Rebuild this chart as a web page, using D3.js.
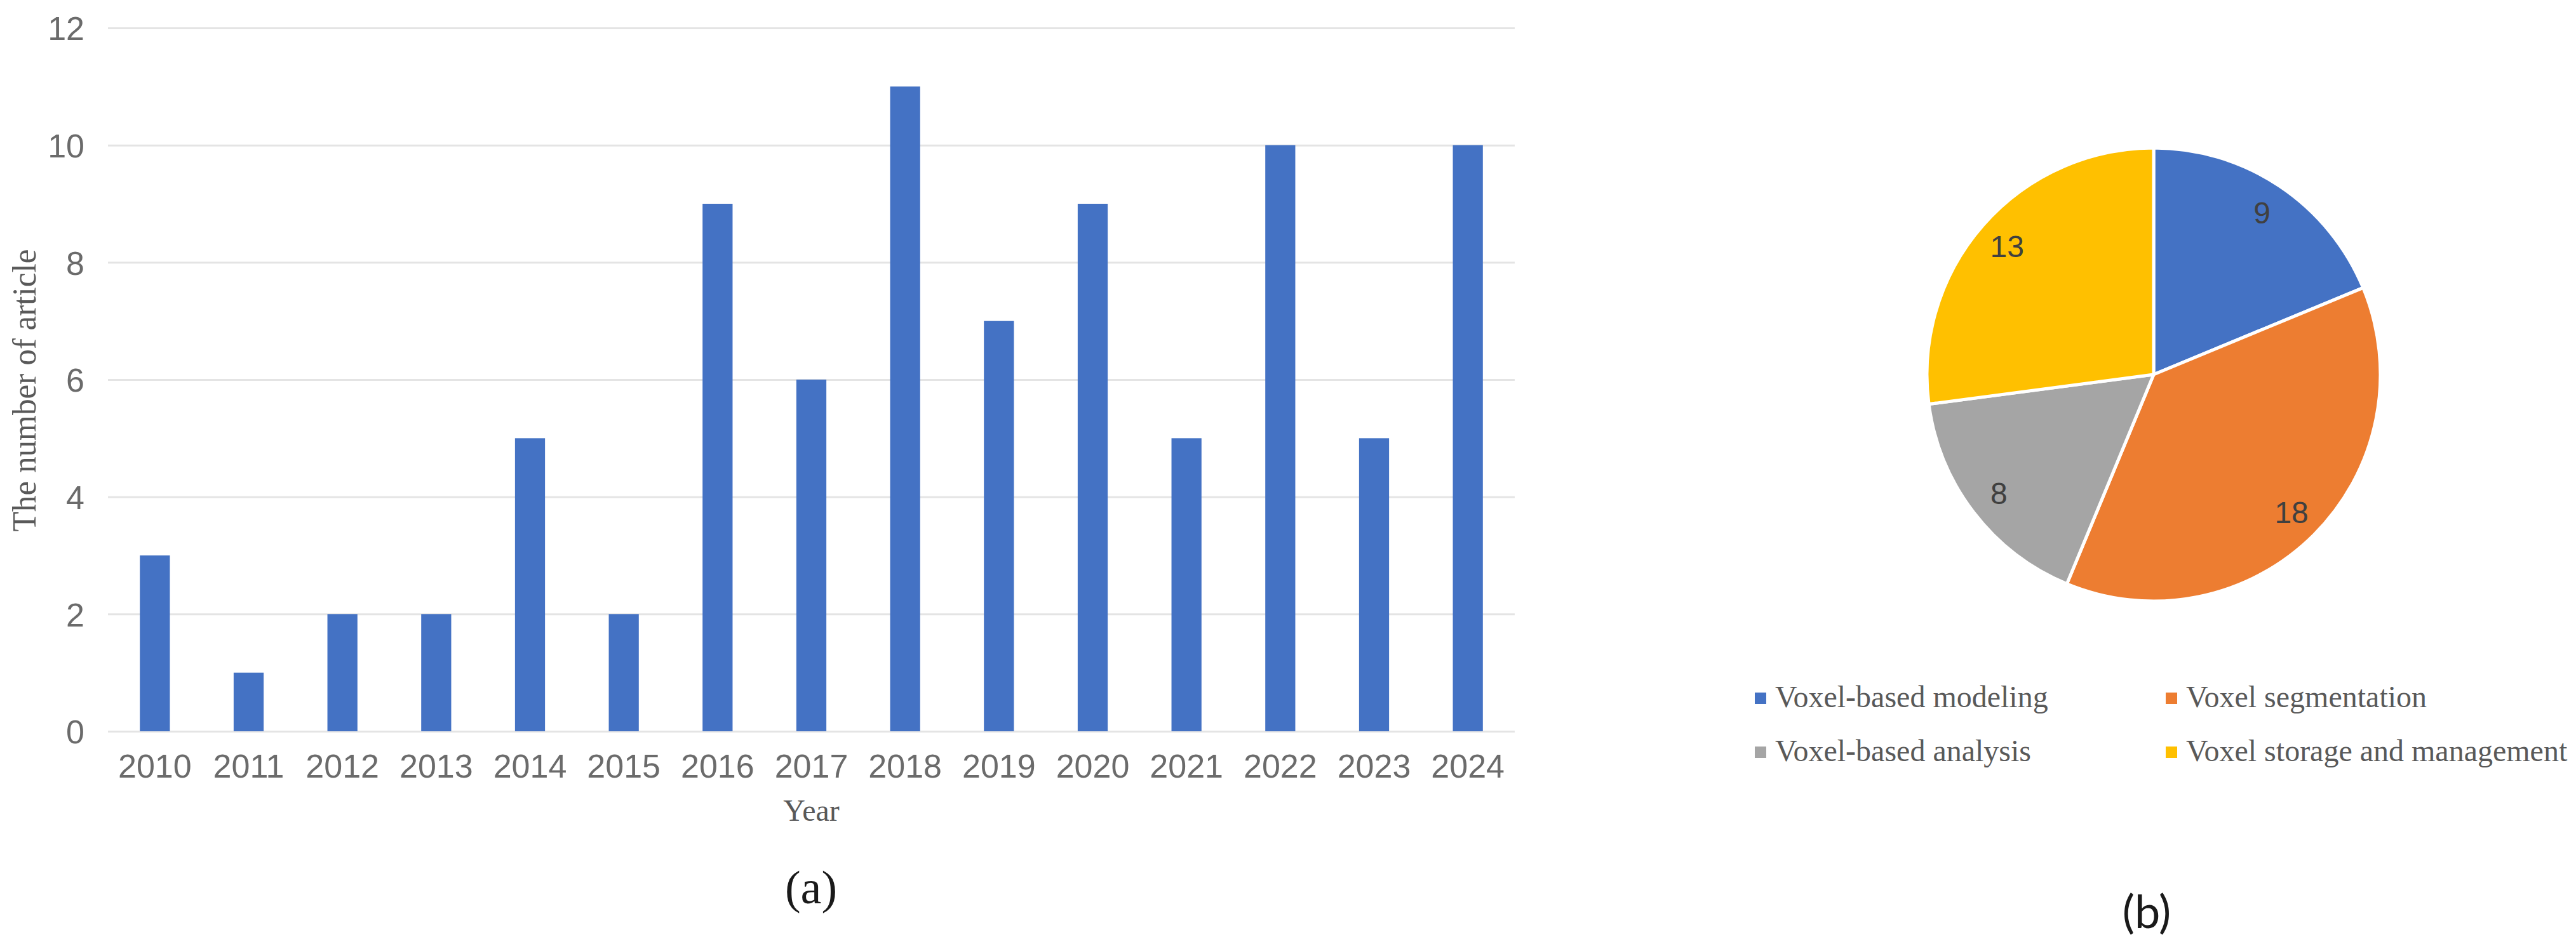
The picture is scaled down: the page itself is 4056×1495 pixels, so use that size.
<!DOCTYPE html>
<html>
<head>
<meta charset="utf-8">
<script src="https://cdn.jsdelivr.net/npm/d3@7"></script>
<style>
  body { margin: 0; background: #fff; }
  .tick text { font-family: "Liberation Sans", Arial, sans-serif; fill: #6b6b6b; }
</style>
</head>
<body>
<div class="charts-container"></div>
<script>
// bar chart data (a)
var years = ["2010","2011","2012","2013","2014","2015","2016","2017","2018","2019","2020","2021","2022","2023","2024"];
var articles = [3, 1, 2, 2, 5, 2, 9, 6, 11, 7, 9, 5, 10, 5, 10];
var yTicks = [0, 2, 4, 6, 8, 10, 12];

// pie chart data (b)
var topics = ["Voxel-based modeling", "Voxel segmentation", "Voxel-based analysis", "Voxel storage and management"];
var topicCounts = [9, 18, 8, 13];
var topicColors = ["#4472c4", "#ed7d31", "#a5a5a5", "#ffc000"];

var W = 4056, H = 1495;

var svg = d3.select(".charts-container")
    .append("svg")
    .attr("width", W)
    .attr("height", H);

svg.append("rect").attr("width", W).attr("height", H).attr("fill", "#fff");

// ---------- (a) bar chart ----------
var margin = {top: 44, left: 170},
    width = 2385 - margin.left,
    height = 1152 - margin.top;

var g = svg.append("g")
    .attr("transform", "translate(" + margin.left + "," + margin.top + ")");

var x = d3.scaleBand()
    .domain(years)
    .range([0, width])
    .paddingInner(0.68)
    .paddingOuter(0.34);

var y = d3.scaleLinear()
    .domain([0, 12])
    .range([height, 0]);

// gridlines + y labels
var yAxis = g.append("g")
    .call(d3.axisLeft(y).tickValues(yTicks).tickSizeInner(-width).tickSizeOuter(0).tickPadding(37));
yAxis.select(".domain").remove();
yAxis.selectAll(".tick line").attr("stroke", "#e4e4e4").attr("stroke-width", 3);
yAxis.selectAll(".tick text").style("font-size", "52px").attr("dy", "0.36em");

// x labels
var xAxis = g.append("g")
    .attr("transform", "translate(0," + height + ")")
    .call(d3.axisBottom(x).tickSize(0).tickPadding(36));
xAxis.select(".domain").remove();
xAxis.selectAll(".tick text").style("font-size", "52px");

// bars
g.append("g")
    .selectAll("rect")
    .data(articles)
    .enter()
    .append("rect")
    .attr("x", function(d, i) { return x(years[i]); })
    .attr("y", function(d) { return y(d); })
    .attr("width", x.bandwidth())
    .attr("height", function(d) { return height - y(d); })
    .attr("fill", "#4472c4");

// axis titles
svg.append("text")
    .attr("transform", "translate(56,615) rotate(-90)")
    .attr("text-anchor", "middle")
    .attr("textLength", 445)
    .attr("lengthAdjust", "spacingAndGlyphs")
    .style("font-family", "'Liberation Serif', 'Times New Roman', serif")
    .style("font-size", "52px")
    .style("fill", "#595959")
    .text("The number of article");

svg.append("text")
    .attr("x", margin.left + width / 2)
    .attr("y", 1293)
    .attr("text-anchor", "middle")
    .style("font-family", "'Liberation Serif', 'Times New Roman', serif")
    .style("font-size", "48px")
    .style("fill", "#595959")
    .text("Year");

svg.append("text")
    .attr("x", 1277)
    .attr("y", 1423)
    .attr("text-anchor", "middle")
    .style("font-family", "'Liberation Serif', 'Times New Roman', serif")
    .style("font-size", "74px")
    .style("fill", "#1a1a1a")
    .text("(a)");

// ---------- (b) pie chart ----------
var radius = 357;
var pieG = svg.append("g")
    .attr("transform", "translate(3391,590)");

var pie = d3.pie().sort(null).value(function(d) { return d; });
var arc = d3.arc().innerRadius(0).outerRadius(radius);
var labelArc = d3.arc().innerRadius(radius * 0.86).outerRadius(radius * 0.86);

var slices = pie(topicCounts);

pieG.selectAll("path")
    .data(slices)
    .enter()
    .append("path")
    .attr("d", arc)
    .attr("fill", function(d, i) { return topicColors[i]; })
    .attr("stroke", "#fff")
    .attr("stroke-width", 5)
    .attr("stroke-linejoin", "round");

pieG.selectAll("text")
    .data(slices)
    .enter()
    .append("text")
    .attr("transform", function(d) { return "translate(" + labelArc.centroid(d) + ")"; })
    .attr("text-anchor", "middle")
    .attr("dy", "0.36em")
    .style("font-family", "'Liberation Sans', Arial, sans-serif")
    .style("font-size", "48px")
    .style("fill", "#404040")
    .text(function(d) { return d.data; });

// legend 2x2
var legX = [2763, 3410], legY = [1100, 1185];
var leg = svg.append("g")
    .selectAll("g")
    .data(topics)
    .enter()
    .append("g")
    .attr("transform", function(d, i) { return "translate(" + legX[i % 2] + "," + legY[Math.floor(i / 2)] + ")"; });

leg.append("rect")
    .attr("x", 0)
    .attr("y", -9)
    .attr("width", 18)
    .attr("height", 18)
    .attr("fill", function(d, i) { return topicColors[i]; });

leg.append("text")
    .attr("x", 32)
    .attr("y", 14)
    .style("font-family", "'Liberation Serif', 'Times New Roman', serif")
    .style("font-size", "48px")
    .style("fill", "#595959")
    .text(function(d) { return d; });

svg.append("text")
    .attr("x", 3380)
    .attr("y", 1462)
    .attr("text-anchor", "middle")
    .style("font-family", "Lato, 'Open Sans', sans-serif")
    .style("font-size", "72px")
    .style("fill", "#1a1a1a")
    .text("(b)");
</script>
</body>
</html>
